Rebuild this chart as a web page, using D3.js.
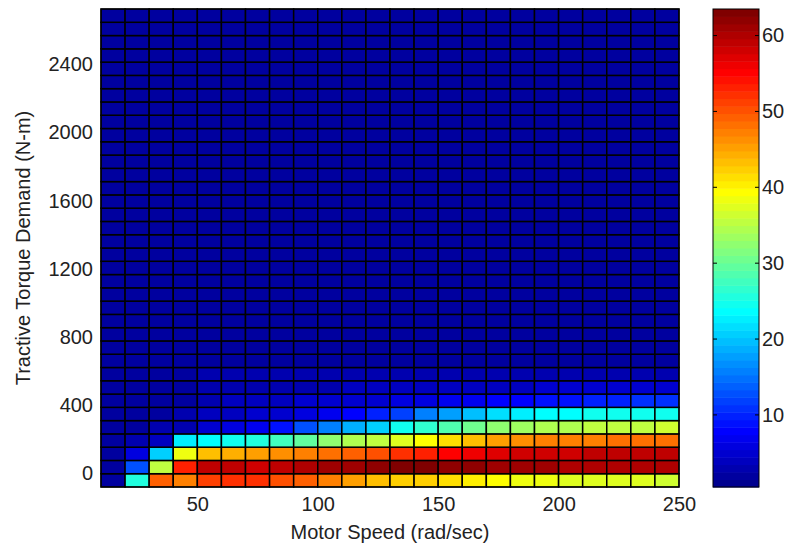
<!DOCTYPE html>
<html>
<head>
<meta charset="utf-8">
<script src="https://cdn.jsdelivr.net/npm/d3@7"></script>
<style>
  body { margin: 0; background: #fff; }
  text { font-family: "Liberation Sans", Arial, Helvetica, sans-serif; fill: #222; }
</style>
</head>
<body>
<svg id="chart" width="786" height="550"></svg>
<script>
// Motor speed bin edges (rad/sec) and torque bin edges (N-m)
const speedEdges = [10, 20, 30, 40, 50, 60, 70, 80, 90, 100, 110, 120, 130, 140, 150,
                    160, 170, 180, 190, 200, 210, 220, 230, 240, 250];
const torqueEdges = [-82, -4, 74, 152, 230, 308, 386, 464, 542, 620, 698, 776, 854, 932,
                     1010, 1088, 1166, 1244, 1322, 1400, 1478, 1556, 1634, 1712, 1790, 1868,
                     1946, 2024, 2102, 2180, 2258, 2336, 2414, 2492, 2570, 2648, 2726];

const xTicks = [50, 100, 150, 200, 250];
const yTicks = [0, 400, 800, 1200, 1600, 2000, 2400];
const colorTicks = [10, 20, 30, 40, 50, 60];

// Cell values, one row per torque bin from the lowest bin upward,
// one entry per speed bin from left to right.
const rowsLow = [
  [2, 26, 49, 47, 51, 52, 52, 50, 49, 47, 45, 43, 42, 42, 41, 40, 39, 38, 38, 37, 37, 37, 37, 36],
  [2, 13, 35, 53, 59, 59, 58, 59, 60, 61, 61, 62, 63, 63, 62, 62, 61, 61, 61, 60, 60, 60, 60, 60],
  [2, 6, 21, 38, 43, 44, 45, 46, 47, 48, 49, 50, 52, 53, 55, 56, 57, 58, 58, 58, 59, 59, 59, 59],
  [2, 3, 4, 23, 24, 25, 26, 28, 30, 32, 34, 35, 37, 39, 41, 43, 45, 46, 47, 47, 47, 48, 48, 48],
  [2, 2, 3, 3, 5, 6, 7, 9, 13, 16, 19, 21, 25, 27, 29, 31, 32, 33, 34, 34, 35, 35, 35, 36],
  [2, 2, 2, 3, 4, 4, 5, 5, 6, 7, 8, 10, 12, 16, 18, 20, 22, 23, 24, 24, 25, 25, 25, 25],
  [2, 2, 2, 2, 3, 4, 4, 4, 5, 5, 5, 5, 6, 6, 7, 7, 8, 8, 9, 9, 10, 10, 11, 11],
  [2, 2, 2, 2, 3, 3, 3, 3, 3, 3, 4, 4, 4, 4, 4, 4, 4, 4, 5, 5, 5, 5, 5, 5]
];
const rowsHigh = [
  [2, 2, 2, 2, 3, 3, 3, 3, 3, 3, 3, 3, 3, 3, 3, 3, 3, 3, 3, 3, 3, 3, 3, 3],
  [2, 2, 2, 2, 2, 2, 2, 2, 2, 2, 2, 2, 2, 2, 2, 2, 2, 2, 2, 2, 2, 2, 2, 2],
  [2, 2, 2, 2, 2, 2, 2, 2, 2, 2, 2, 2, 2, 2, 2, 2, 2, 2, 2, 2, 2, 2, 2, 2],
  [2, 2, 2, 2, 2, 2, 2, 2, 2, 2, 2, 2, 2, 2, 2, 2, 2, 2, 2, 2, 2, 2, 2, 2],
  [2, 2, 2, 2, 2, 2, 2, 2, 2, 2, 2, 2, 2, 2, 2, 2, 2, 2, 2, 2, 2, 2, 2, 2],
  [2, 2, 2, 2, 2, 2, 2, 2, 2, 2, 2, 2, 2, 2, 2, 2, 2, 2, 2, 2, 2, 2, 2, 2],
  [2, 2, 2, 2, 2, 2, 2, 2, 2, 2, 2, 2, 2, 2, 2, 2, 2, 2, 2, 2, 2, 2, 2, 2],
  [2, 2, 2, 2, 2, 2, 2, 2, 2, 2, 2, 2, 2, 2, 2, 2, 2, 2, 2, 2, 2, 2, 2, 2],
  [2, 2, 2, 2, 2, 2, 2, 2, 2, 2, 2, 2, 2, 2, 2, 2, 2, 2, 2, 2, 2, 2, 2, 2],
  [2, 2, 2, 2, 2, 2, 2, 2, 2, 2, 2, 2, 2, 2, 2, 2, 2, 2, 2, 2, 2, 2, 2, 2],
  [2, 2, 2, 2, 2, 2, 2, 2, 2, 2, 2, 2, 2, 2, 2, 2, 2, 2, 2, 2, 2, 2, 2, 2],
  [2, 2, 2, 2, 2, 2, 2, 2, 2, 2, 2, 2, 2, 2, 2, 2, 2, 2, 2, 2, 2, 2, 2, 2],
  [2, 2, 2, 2, 2, 2, 2, 2, 2, 2, 2, 2, 2, 2, 2, 2, 2, 2, 2, 2, 2, 2, 2, 2],
  [2, 2, 2, 2, 2, 2, 2, 2, 2, 2, 2, 2, 2, 2, 2, 2, 2, 2, 2, 2, 2, 2, 2, 2],
  [2, 2, 2, 2, 2, 2, 2, 2, 2, 2, 2, 2, 2, 2, 2, 2, 2, 2, 2, 2, 2, 2, 2, 2],
  [2, 2, 2, 2, 2, 2, 2, 2, 2, 2, 2, 2, 2, 2, 2, 2, 2, 2, 2, 2, 2, 2, 2, 2],
  [2, 2, 2, 2, 2, 2, 2, 2, 2, 2, 2, 2, 2, 2, 2, 2, 2, 2, 2, 2, 2, 2, 2, 2],
  [2, 2, 2, 2, 2, 2, 2, 2, 2, 2, 2, 2, 2, 2, 2, 2, 2, 2, 2, 2, 2, 2, 2, 2],
  [2, 2, 2, 2, 2, 2, 2, 2, 2, 2, 2, 2, 2, 2, 2, 2, 2, 2, 2, 2, 2, 2, 2, 2],
  [2, 2, 2, 2, 2, 2, 2, 2, 2, 2, 2, 2, 2, 2, 2, 2, 2, 2, 2, 2, 2, 2, 2, 2],
  [2, 2, 2, 2, 2, 2, 2, 2, 2, 2, 2, 2, 2, 2, 2, 2, 2, 2, 2, 2, 2, 2, 2, 2],
  [2, 2, 2, 2, 2, 2, 2, 2, 2, 2, 2, 2, 2, 2, 2, 2, 2, 2, 2, 2, 2, 2, 2, 2],
  [2, 2, 2, 2, 2, 2, 2, 2, 2, 2, 2, 2, 2, 2, 2, 2, 2, 2, 2, 2, 2, 2, 2, 2],
  [2, 2, 2, 2, 2, 2, 2, 2, 2, 2, 2, 2, 2, 2, 2, 2, 2, 2, 2, 2, 2, 2, 2, 2],
  [2, 2, 2, 2, 2, 2, 2, 2, 2, 2, 2, 2, 2, 2, 2, 2, 2, 2, 2, 2, 2, 2, 2, 2],
  [2, 2, 2, 2, 2, 2, 2, 2, 2, 2, 2, 2, 2, 2, 2, 2, 2, 2, 2, 2, 2, 2, 2, 2],
  [2, 2, 2, 2, 2, 2, 2, 2, 2, 2, 2, 2, 2, 2, 2, 2, 2, 2, 2, 2, 2, 2, 2, 2],
  [2, 2, 2, 2, 2, 2, 2, 2, 2, 2, 2, 2, 2, 2, 2, 2, 2, 2, 2, 2, 2, 2, 2, 2]
];

const colorLimits = [0.5, 63.5];

// 64-entry jet colormap
function jet(k) {
  const r = k <= 24 ? 0 : k <= 40 ? (k - 24) / 16 : k <= 56 ? 1 : 1 - (k - 56) / 16;
  const g = k <= 8 ? 0 : k <= 24 ? (k - 8) / 16 : k <= 40 ? 1 : k <= 56 ? 1 - (k - 40) / 16 : 0;
  const b = k <= 8 ? 0.5 + k / 16 : k <= 24 ? 1 : k <= 40 ? 1 - (k - 24) / 16 : 0;
  return d3.rgb(r * 255, g * 255, b * 255).formatHex();
}
const jetColors = d3.range(1, 65).map(jet);

const svg = d3.select("#chart");
const plot = { left: 101, right: 679, top: 9, bottom: 487 };
const bar = { left: 713, right: 759 };

const x = d3.scaleLinear().domain([speedEdges[0], speedEdges[speedEdges.length - 1]])
  .range([plot.left, plot.right]);
const y = d3.scaleLinear().domain([torqueEdges[0], torqueEdges[torqueEdges.length - 1]])
  .range([plot.bottom, plot.top]);
const color = d3.scaleQuantize().domain(colorLimits).range(jetColors);

const grid = rowsLow.concat(rowsHigh);
const cells = [];
grid.forEach((row, i) => row.forEach((v, j) => {
  cells.push({ s0: speedEdges[j], s1: speedEdges[j + 1], t0: torqueEdges[i], t1: torqueEdges[i + 1], v });
}));

svg.append("g").selectAll("rect").data(cells).join("rect")
  .attr("x", d => x(d.s0))
  .attr("y", d => y(d.t1))
  .attr("width", d => x(d.s1) - x(d.s0))
  .attr("height", d => y(d.t0) - y(d.t1))
  .attr("fill", d => color(d.v))
  .attr("stroke", "#000")
  .attr("stroke-width", 1.5);

// plot frame
svg.append("rect")
  .attr("x", plot.left).attr("y", plot.top)
  .attr("width", plot.right - plot.left).attr("height", plot.bottom - plot.top)
  .attr("fill", "none").attr("stroke", "#000").attr("stroke-width", 1);

// axes
const fontSize = 20;
const fmt = d3.format("d");
const xAxis = svg.append("g").attr("transform", `translate(0,${plot.bottom})`)
  .call(d3.axisBottom(x).tickValues(xTicks).tickFormat(fmt).tickSize(0).tickPadding(10));
const yAxis = svg.append("g").attr("transform", `translate(${plot.left},0)`)
  .call(d3.axisLeft(y).tickValues(yTicks).tickFormat(fmt).tickSize(0).tickPadding(8));
[xAxis, yAxis].forEach(a => {
  a.select(".domain").remove();
  a.selectAll("text").attr("font-size", fontSize).attr("fill", "#222")
    .style("font-family", '"Liberation Sans", Arial, sans-serif');
});

svg.append("text")
  .attr("x", (plot.left + plot.right) / 2).attr("y", 539)
  .attr("text-anchor", "middle").attr("font-size", fontSize)
  .text("Motor Speed (rad/sec)");

svg.append("text")
  .attr("transform", `translate(30,${(plot.top + plot.bottom) / 2}) rotate(-90)`)
  .attr("text-anchor", "middle").attr("font-size", fontSize)
  .text("Tractive Torque Demand (N-m)");

// colorbar
const cy = d3.scaleLinear().domain(colorLimits).range([plot.bottom, plot.top]);
const step = (colorLimits[1] - colorLimits[0]) / jetColors.length;
svg.append("g").selectAll("rect").data(jetColors).join("rect")
  .attr("x", bar.left)
  .attr("y", (c, i) => cy(colorLimits[0] + (i + 1) * step))
  .attr("width", bar.right - bar.left)
  .attr("height", (c, i) => cy(colorLimits[0] + i * step) - cy(colorLimits[0] + (i + 1) * step) + 0.5)
  .attr("fill", c => c);

svg.append("rect")
  .attr("x", bar.left).attr("y", plot.top)
  .attr("width", bar.right - bar.left).attr("height", plot.bottom - plot.top)
  .attr("fill", "none").attr("stroke", "#000").attr("stroke-width", 1);

const cAxis = svg.append("g").attr("transform", `translate(${bar.right},0)`)
  .call(d3.axisRight(cy).tickValues(colorTicks).tickFormat(fmt).tickSize(0).tickPadding(3));
cAxis.select(".domain").remove();
cAxis.selectAll("text").attr("font-size", fontSize).attr("fill", "#222")
  .style("font-family", '"Liberation Sans", Arial, sans-serif');

// small inward tick marks on both sides of the colorbar
const cbTickMarks = svg.append("g");
colorTicks.forEach(t => {
  cbTickMarks.append("line").attr("x1", bar.left).attr("x2", bar.left + 4)
    .attr("y1", cy(t)).attr("y2", cy(t)).attr("stroke", "#000");
  cbTickMarks.append("line").attr("x1", bar.right - 4).attr("x2", bar.right)
    .attr("y1", cy(t)).attr("y2", cy(t)).attr("stroke", "#000");
});
</script>
</body>
</html>
